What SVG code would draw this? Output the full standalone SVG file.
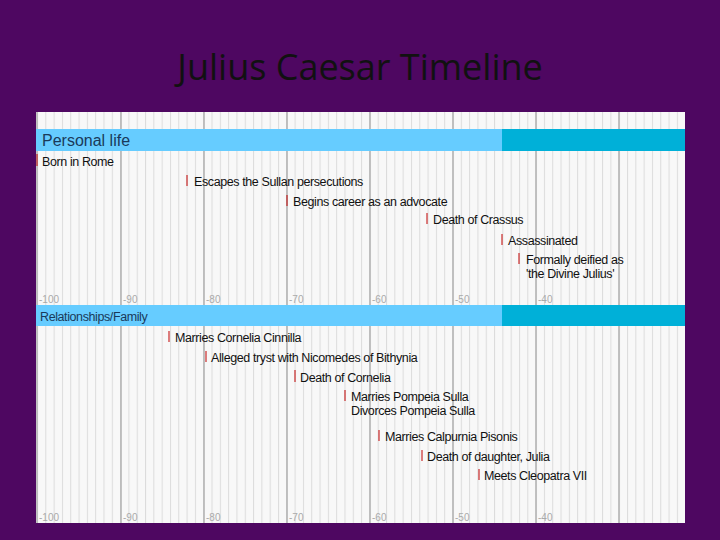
<svg xmlns="http://www.w3.org/2000/svg" width="720" height="540" viewBox="0 0 720 540">
<defs>
<pattern id="minor" patternUnits="userSpaceOnUse" x="37" y="0" width="8.31" height="540"><rect width="8.31" height="540" fill="#f8f8f8"/><line x1="0.5" y1="0" x2="0.5" y2="540" stroke="#dcdcdc" stroke-width="1"/></pattern>
</defs>
<style>
.t{font-family:"Liberation Sans",Arial,sans-serif;font-size:12.5px;fill:#111;letter-spacing:-0.4px}
.ax{font-family:"Liberation Sans",Arial,sans-serif;font-size:10px;fill:#aaa}
.maj{stroke:#b0b0b0;stroke-width:1.5}
.tk{stroke:#c00000;stroke-width:1}
</style>
<rect width="720" height="540" fill="#4e0761"/>
<text x="360" y="80" text-anchor="middle" font-family="'Open Sans','Liberation Sans',sans-serif" font-size="36" fill="#111">Julius Caesar Timeline</text>
<g id="chart">
<rect x="36" y="112" width="649" height="411" fill="url(#minor)"/>
<g class="maj">
<line x1="37" y1="112" x2="37" y2="523"/><line x1="121" y1="112" x2="121" y2="523"/><line x1="204" y1="112" x2="204" y2="523"/><line x1="287" y1="112" x2="287" y2="523"/><line x1="370" y1="112" x2="370" y2="523"/><line x1="453" y1="112" x2="453" y2="523"/><line x1="536" y1="112" x2="536" y2="523"/><line x1="619" y1="112" x2="619" y2="523"/>
</g>
<rect x="36" y="129" width="466" height="22" fill="#66ccff"/><rect x="502" y="129" width="183" height="22" fill="#00b0d8"/>
<text x="42" y="146" font-family="'Liberation Sans',Arial,sans-serif" font-size="16" fill="#1a3a5a">Personal life</text>
<rect x="36" y="305" width="466" height="21" fill="#66ccff"/><rect x="502" y="305" width="183" height="21" fill="#00b0d8"/>
<text x="40" y="321" font-family="'Liberation Sans',Arial,sans-serif" font-size="12.5" fill="#1a3a5a" letter-spacing="-0.4">Relationships/Family</text>
<g class="ax">
<text x="39" y="303">-100</text><text x="123" y="303">-90</text><text x="206" y="303">-80</text><text x="289" y="303">-70</text><text x="372" y="303">-60</text><text x="455" y="303">-50</text><text x="538" y="303">-40</text>
<text x="39" y="521">-100</text><text x="123" y="521">-90</text><text x="206" y="521">-80</text><text x="289" y="521">-70</text><text x="372" y="521">-60</text><text x="455" y="521">-50</text><text x="538" y="521">-40</text>
</g>
</g>
<g id="personal">
<line class="tk" x1="37" y1="154" x2="37" y2="166"/><text class="t" x="42" y="166">Born in Rome</text>
<line class="tk" x1="187" y1="175" x2="187" y2="186"/><text class="t" x="194" y="186">Escapes the Sullan persecutions</text>
<line class="tk" x1="287" y1="195" x2="287" y2="206"/><text class="t" x="293" y="206">Begins career as an advocate</text>
<line class="tk" x1="427" y1="213" x2="427" y2="224"/><text class="t" x="433" y="224">Death of Crassus</text>
<line class="tk" x1="502" y1="234" x2="502" y2="245"/><text class="t" x="508" y="245">Assassinated</text>
<line class="tk" x1="519" y1="253" x2="519" y2="264"/><text class="t" x="526" y="264">Formally deified as</text><text class="t" x="526" y="278">'the Divine Julius'</text>
</g>
<g id="family">
<line class="tk" x1="169" y1="331" x2="169" y2="342"/><text class="t" x="175" y="342">Marries Cornelia Cinnilla</text>
<line class="tk" x1="206" y1="351" x2="206" y2="362"/><text class="t" x="211" y="362">Alleged tryst with Nicomedes of Bithynia</text>
<line class="tk" x1="295" y1="370" x2="295" y2="382"/><text class="t" x="300" y="382">Death of Cornelia</text>
<line class="tk" x1="345" y1="390" x2="345" y2="401" stroke-width="2"/><text class="t" x="351" y="401">Marries Pompeia Sulla</text><text class="t" x="351" y="415">Divorces Pompeia Sulla</text>
<line class="tk" x1="379" y1="430" x2="379" y2="441"/><text class="t" x="385" y="441">Marries Calpurnia Pisonis</text>
<line class="tk" x1="422" y1="450" x2="422" y2="461"/><text class="t" x="427" y="461">Death of daughter, Julia</text>
<line class="tk" x1="479" y1="469" x2="479" y2="480"/><text class="t" x="484" y="480">Meets Cleopatra VII</text>
</g>
</svg>
